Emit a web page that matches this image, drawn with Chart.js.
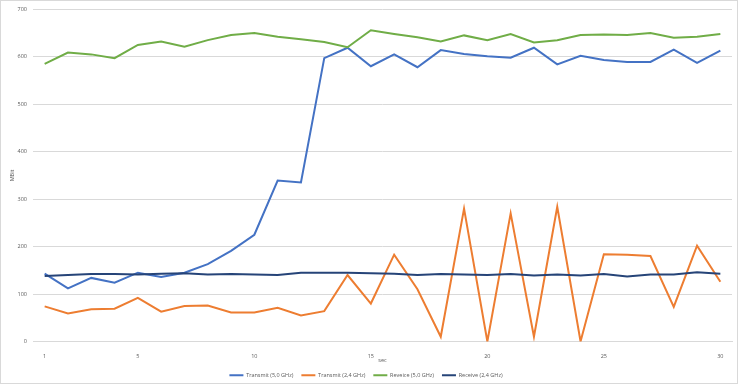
<!DOCTYPE html>
<html><head><meta charset="utf-8">
<script src="https://cdn.jsdelivr.net/npm/chart.js@4.4.1/dist/chart.umd.min.js"></script>
<style>
html,body{margin:0;padding:0;background:#fff;}
#wrap{position:relative;width:738px;height:384px;}
#frame{position:absolute;left:0;top:0;width:738px;height:384px;box-sizing:border-box;border:1px solid #d9d9d9;pointer-events:none;}
canvas{display:block;}
</style></head>
<body><div id="wrap"><canvas id="c" width="738" height="384"></canvas><div id="frame"></div></div>
<script>
const categories = [1,2,3,4,5,6,7,8,9,10,11,12,13,14,15,16,17,18,19,20,21,22,23,24,25,26,27,28,29,30];
const shownTicks = [1,5,10,15,20,25,30];
const transmit50 = [143,112,134,124,145,136,145,163,191,225,339,335,597,619,580,605,578,614,606,601,598,619,584,602,593,589,589,615,587,613];
const transmit24 = [74,59,68,69,92,63,75,76,61,61,71,55,64,140,80,183,110,10,280,0,270,10,284,0,184,183,180,73,202,126];
const receive50 = [585,609,605,597,625,632,621,635,646,650,642,637,631,620,656,648,641,632,645,635,648,630,635,646,647,646,650,640,642,648];
const receive24 = [138,140,142,142,141,143,144,141,142,141,140,145,145,145,144,143,140,142,141,140,142,139,141,139,142,137,141,141,146,143];
const yTicks = [0,100,200,300,400,500,600,700];

const FONT = "'Open Sans', 'Liberation Sans', sans-serif";
const FS = 5.5;
const TXT = '#595959';
function ds(label, data, color, order){
  return {label, data, borderColor:color, backgroundColor:color, borderWidth:2, pointRadius:0, pointStyle:'line', tension:0, fill:false, order};
}
new Chart(document.getElementById('c'), {
  type:'line',
  data:{labels:categories, datasets:[
    ds('Transmit (5,0 GHz)', transmit50, '#4472C4', 4),
    ds('Transmit (2,4 GHz)', transmit24, '#ED7D31', 3),
    ds('Reveice (5,0 GHz)', receive50, '#70AD47', 2),
    ds('Receive (2,4 GHz)', receive24, '#264478', 1)
  ]},
  options:{
    responsive:false, animation:false,
    layout:{padding:{left:0,right:6,top:2,bottom:-4}},
    plugins:{
      tooltip:{enabled:false},
      legend:{position:'bottom', labels:{font:{family:FONT,size:FS}, color:TXT, usePointStyle:true, pointStyle:'line', pointStyleWidth:14, boxHeight:6, padding:8,
        sort:(a,b)=>a.datasetIndex-b.datasetIndex}}
    },
    scales:{
      x:{offset:true, grid:{display:false}, border:{display:true,color:'#d9d9d9'},
        afterFit:(s)=>{s.height=23;},
        ticks:{autoSkip:false, maxRotation:0, font:{family:FONT,size:FS}, color:TXT, padding:4,
          callback:function(v,i){const c=categories[i]; return shownTicks.includes(c)?String(c):'';}},
        title:{display:true,text:'sec',font:{family:FONT,size:FS},color:TXT,padding:{top:2,bottom:1}}},
      y:{min:0,max:700, afterBuildTicks:(s)=>{s.ticks=yTicks.map(v=>({value:v}));},
        afterFit:(s)=>{s.width=33;},
        grid:{color:'#d9d9d9', drawTicks:false}, border:{display:false},
        ticks:{font:{family:FONT,size:FS}, color:TXT, padding:6},
        title:{display:true,text:'MBit',font:{family:FONT,size:FS},color:TXT,padding:{top:9,bottom:0}}}
    }
  }
});
</script></body></html>
